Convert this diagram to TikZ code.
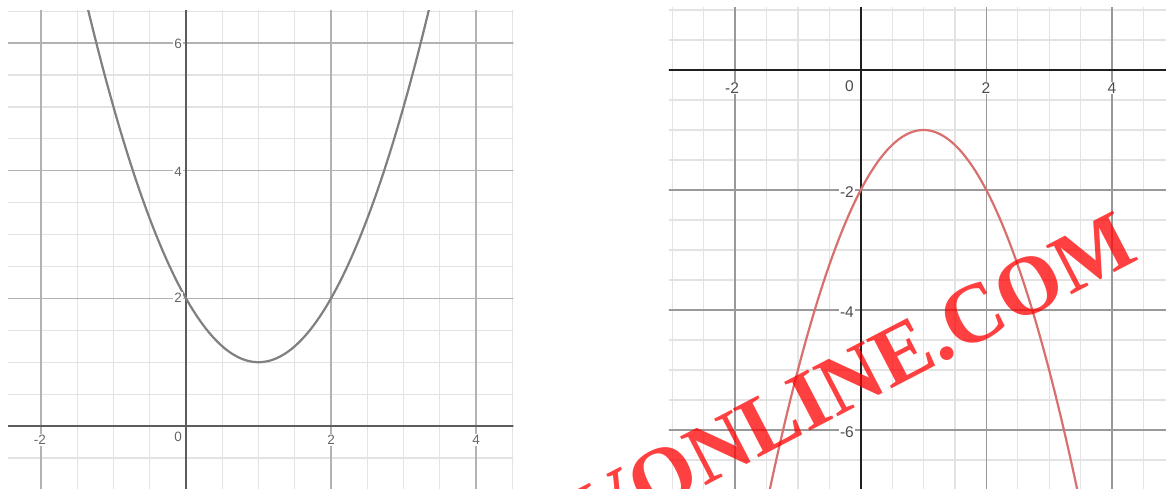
\documentclass[tikz,border=0pt]{standalone}
\usepackage{fontspec}
\newfontfamily\lblfont{Liberation Sans}
\newfontfamily\wmfont{Liberation Serif}
\definecolor{minorc}{gray}{0.89}
\definecolor{majorL}{gray}{0.70}
\definecolor{majorR}{gray}{0.60}
\definecolor{axisL}{gray}{0.36}
\definecolor{axisR}{gray}{0.12}
\definecolor{curveL}{gray}{0.5}
\definecolor{curveR}{RGB}{216,112,110}
\definecolor{lblLc}{gray}{0.40}
\definecolor{lblRc}{gray}{0.3}
\tikzset{
  minorgrid/.style={draw=minorc, line width=1.2pt},
  majorgridL/.style={draw=majorL, line width=1.4pt},
  majorgridR/.style={draw=majorR, line width=1.3pt},
  axisLine/.style={draw=axisL, line width=2.2pt},
  axisRLine/.style={draw=axisR, line width=2pt},
  curveLeft/.style={draw=curveL, line width=2.2pt},
  curveRight/.style={draw=curveR, line width=2.2pt},
  lblL/.style={font=\lblfont\fontsize{13.5}{13.5}\selectfont, text=lblLc, inner sep=1pt, fill=white},
  lblR/.style={font=\lblfont\fontsize{15.5}{15.5}\selectfont, text=lblRc, inner sep=1pt, fill=white},
  watermark/.style={font=\wmfont\bfseries\fontsize{84}{84}\selectfont, text=red, text opacity=0.75, inner sep=0pt}
}
\begin{document}
\begin{tikzpicture}[x=1pt, y=-1pt]
\useasboundingbox (0,0) rectangle (1166,489);
\fill[white] (0,0) rectangle (1166,489);
\clip (0,0) rectangle (1166,489);

% ---------------- left graph ----------------
\begin{scope}[shift={(186,426)}, x=72.5pt, y=63.8pt]
  \begin{scope}
    \clip (-2.455,-0.99) rectangle (4.515,6.51);
    \foreach \i in {-5,...,9} \draw[minorgrid] (\i/2,-1.2) -- (\i/2,7);
    \foreach \j in {-2,...,13} \draw[minorgrid] (-3,\j/2) -- (5,\j/2);
    \foreach \i in {-2,2,4} \draw[majorgridL] (\i,-1.2) -- (\i,7);
    \foreach \j in {2,4,6} \draw[majorgridL] (-3,\j) -- (5,\j);
    \draw[axisLine] (-3,0) -- (5,0);
    \draw[axisLine] (0,-1.2) -- (0,7);
    \draw[curveLeft] plot[domain=-1.45:3.45, samples=120, smooth] (\x, {\x*\x-2*\x+2});
  \end{scope}
\end{scope}
\node[lblL] (lxm2) at (40,440) {-2};
\node[lblL, anchor=east] (lx0) at (183,437) {0};
\node[lblL] (lx2) at (331,440) {2};
\node[lblL] (lx4) at (476,440) {4};
\node[lblL, anchor=east] (ly2) at (183,298) {2};
\node[lblL, anchor=east] (ly4) at (183,172) {4};
\node[lblL, anchor=east] (ly6) at (183,44) {6};

% ---------------- right graph ----------------
\begin{scope}[shift={(860.7,70)}, x=62.8pt, y=60pt]
  \begin{scope}
    \clip (-3.053,-6.99) rectangle (4.87,1.04);
    \foreach \i in {-6,...,9} \draw[minorgrid] (\i/2,-7.2) -- (\i/2,1.5);
    \foreach \j in {-14,...,2} \draw[minorgrid] (-3.5,\j/2) -- (5,\j/2);
    \foreach \i in {-2,2,4} \draw[majorgridR] (\i,-7.2) -- (\i,1.5);
    \foreach \j in {-2,-4,-6} \draw[majorgridR] (-3.5,\j) -- (5,\j);
    \draw[axisRLine] (-3.5,0) -- (5,0);
    \draw[axisRLine] (0,-7.2) -- (0,1.5);
    \draw[curveRight] plot[domain=-1.5:3.5, samples=120, smooth] (\x, {-\x*\x+2*\x-2});
  \end{scope}
\end{scope}
\node[lblR] (rxm2) at (732,88) {-2};
\node[lblR, anchor=east] (rx0) at (855,86) {0};
\node[lblR] (rx2) at (986,88) {2};
\node[lblR] (rx4) at (1112,88) {4};
\node[lblR, anchor=east] (rym2) at (855,192) {-2};
\node[lblR, anchor=east] (rym4) at (855,312) {-4};
\node[lblR, anchor=east] (rym6) at (855,432) {-6};

% ---------------- watermark ----------------
\node[watermark, rotate=27.5, anchor=base east] (wm) at (1141,259) {VONLINE.COM};
\end{tikzpicture}
\end{document}
